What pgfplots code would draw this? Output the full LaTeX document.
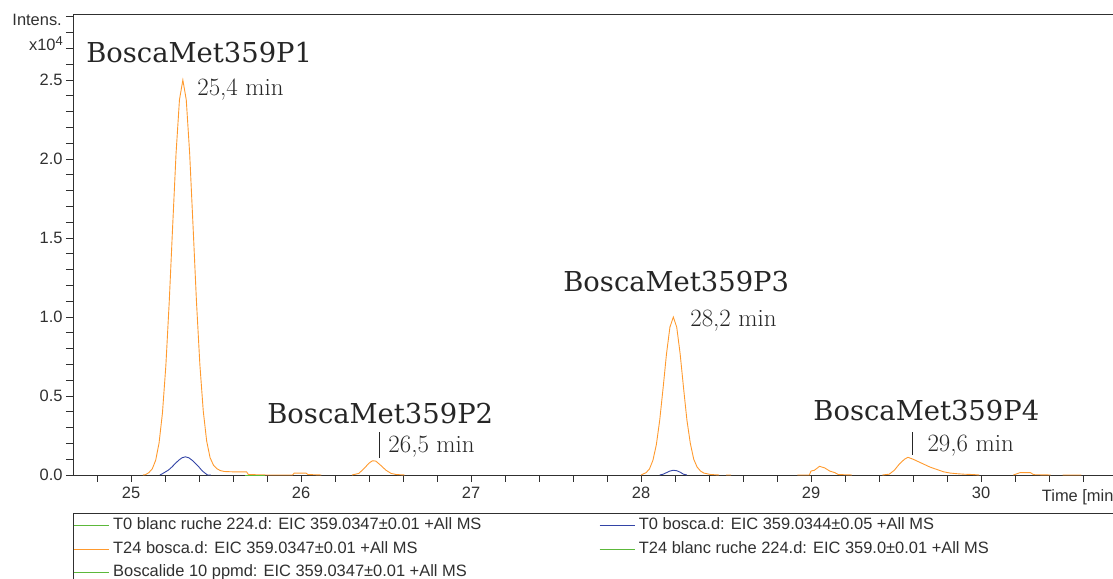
\documentclass[border=0pt]{standalone}
\usepackage{fontspec}
\setmainfont{Liberation Sans}
\newfontfamily\titlefont{DejaVu Serif}
\newfontfamily\lmfont{Latin Modern Roman}
\usepackage{pgfplots}
\pgfplotsset{compat=1.18}
\definecolor{cOrange}{HTML}{FF9A2E}
\definecolor{cBlue}{HTML}{3344A6}
\definecolor{cGreen}{HTML}{5CB83A}
\definecolor{axcol}{HTML}{303030}

\pgfplotstableread{
t I
25.07 0
25.085 0.002
25.105 0.015
25.125 0.039
25.145 0.093
25.165 0.202
25.185 0.393
25.205 0.692
25.225 1.099
25.245 1.574
25.265 2.036
25.285 2.375
25.305 2.50
25.325 2.375
25.345 2.036
25.365 1.574
25.385 1.099
25.405 0.700
25.425 0.405
25.445 0.215
25.465 0.110
25.485 0.062
25.505 0.040
25.525 0.028
25.55 0.022
25.60 0.020
25.68 0.020
25.69 0.003
25.80 0
25.95 0
25.96 0.012
26.03 0.012
26.04 0.003
26.12 0
nan nan
26.30 0
26.34 0.010
26.37 0.040
26.40 0.075
26.42 0.090
26.44 0.088
26.47 0.060
26.50 0.030
26.53 0.010
26.56 0.003
26.61 0
nan nan
28.00 0
28.01 0.005
28.03 0.015
28.05 0.039
28.07 0.093
28.09 0.191
28.11 0.347
28.13 0.552
28.15 0.768
28.17 0.936
28.19 1.000
28.21 0.936
28.23 0.768
28.25 0.552
28.27 0.347
28.29 0.200
28.31 0.100
28.33 0.050
28.35 0.025
28.37 0.012
28.41 0.003
28.46 0
nan nan
28.50 0
28.53 0
nan nan
28.92 0
28.99 0
29.00 0.025
29.02 0.030
29.05 0.055
29.08 0.045
29.11 0.025
29.14 0.015
29.16 0.003
29.24 0
nan nan
29.42 0
29.46 0.005
29.49 0.030
29.52 0.070
29.55 0.100
29.57 0.112
29.60 0.100
29.63 0.085
29.66 0.070
29.70 0.050
29.74 0.035
29.78 0.020
29.82 0.012
29.86 0.008
29.90 0.005
29.95 0.003
29.99 0
nan nan
30.19 0
30.23 0.015
30.29 0.015
30.31 0.002
30.41 0
nan nan
30.48 0
30.59 0
}\tTwentyFourBosca

\pgfplotstableread{
t I
25.17 0
25.18 0.005
25.20 0.018
25.22 0.031
25.24 0.050
25.26 0.072
25.28 0.093
25.30 0.109
25.32 0.115
25.34 0.109
25.36 0.093
25.38 0.072
25.40 0.050
25.42 0.025
25.44 0.008
25.45 0
25.47 0
nan nan
28.11 0
28.13 0.005
28.15 0.015
28.17 0.025
28.19 0.030
28.21 0.027
28.23 0.018
28.25 0.005
28.27 0
}\tZeroBosca

\pgfplotstableread{
t I
25.67 0
25.79 0
}\tGreen

\begin{document}
\begin{tikzpicture}[x=1bp,y=1bp]
\begin{axis}[
  at={(73bp,104bp)}, anchor=south west,
  scale only axis, width=1045bp, height=461bp,
  xmin=24.6588, xmax=30.806, ymin=0, ymax=2.918,
  xtick={25,26,27,28,29,30},
  xticklabels={25,26,27,28,29,30},
  minor xtick={24.8,25.2,25.4,25.6,25.8,26.2,26.4,26.6,26.8,27.2,27.4,27.6,27.8,28.2,28.4,28.6,28.8,29.2,29.4,29.6,29.8,30.2,30.4,30.6},
  ytick={0,0.5,1,1.5,2,2.5},
  yticklabels={0.0,0.5,1.0,1.5,2.0,2.5},
  minor ytick={0.1,0.2,0.3,0.4,0.6,0.7,0.8,0.9,1.1,1.2,1.3,1.4,1.6,1.7,1.8,1.9,2.1,2.2,2.3,2.4,2.6,2.7,2.8,2.9},
  tick align=outside, xtick pos=left, ytick pos=left,
  major tick length=7bp, minor tick length=7bp,
  every tick/.style={axcol, line width=0.8pt},
  axis line style={axcol, line width=0.8pt},
  ticklabel style={font=\fontsize{16.5}{19}\selectfont, text=axcol},
  xticklabel style={yshift=-2bp},
  /pgf/number format/assume math mode=true,
  unbounded coords=jump,
  clip=false,
  legend columns=2,
  legend cell align=left,
  legend image code/.code={\draw[#1] (0bp,0bp) -- (35bp,0bp);},
  legend style={at={(0,-0.0824)}, anchor=north west, draw=axcol, line width=0.8pt,
    inner sep=0pt, row sep=0pt, column sep=0pt,
    font=\fontsize{16.5}{20}\selectfont, text=axcol,
    nodes={inner sep=3.9bp, text height=12bp, text depth=4bp}},
]
\addplot[cGreen, line width=0.9pt] table[x=t,y=I] {\tGreen};
\addlegendentry{\makebox[482bp][l]{T0 blanc ruche 224.d: EIC 359.0347±0.01 +All MS}}
\addplot[cBlue, line width=0.9pt] table[x=t,y=I] {\tZeroBosca};
\addlegendentry{\makebox[480bp][l]{T0 bosca.d: EIC 359.0344±0.05 +All MS}}
\addplot[cOrange, line width=0.9pt] table[x=t,y=I] {\tTwentyFourBosca};
\addlegendentry{T24 bosca.d: EIC 359.0347±0.01 +All MS}
\addplot[cGreen, line width=0.9pt] table[x=t,y=I] {\tGreen};
\addlegendentry{T24 blanc ruche 224.d: EIC 359.0±0.01 +All MS}
\addplot[cGreen, line width=0.9pt] table[x=t,y=I] {\tGreen};
\addlegendentry{Boscalide 10 ppmd: EIC 359.0347±0.01 +All MS}

\tikzset{ttl/.style={font=\titlefont\fontsize{27.5}{32}\selectfont, text=black!85, inner sep=0pt},
         rt/.style={font=\lmfont\fontsize{25}{30}\selectfont, text=black!85, inner sep=0pt, anchor=west}}
\node[ttl] at (axis cs:25.401,2.671) {BoscaMet359P1};
\node[rt] at (axis cs:25.389,2.437) {25,4 min};
\node[ttl] at (axis cs:26.466,0.386) {BoscaMet359P2};
\draw[black!85, line width=0.9pt] (axis cs:26.46,0.108) -- (axis cs:26.46,0.272);
\node[rt] at (axis cs:26.513,0.177) {26,5 min};
\node[ttl] at (axis cs:28.207,1.222) {BoscaMet359P3};
\node[rt] at (axis cs:28.289,0.975) {28,2 min};
\node[ttl] at (axis cs:29.678,0.405) {BoscaMet359P4};
\draw[black!85, line width=0.9pt] (axis cs:29.595,0.127) -- (axis cs:29.595,0.272);
\node[rt] at (axis cs:29.684,0.184) {29,6 min};

\node[anchor=east, inner sep=0pt, font=\fontsize{16.5}{19}\selectfont, text=axcol] at (axis description cs:0,1) [xshift=-11bp, yshift=-6bp] {Intens.};
\node[anchor=base east, inner sep=0pt, font=\fontsize{16.5}{19}\selectfont, text=axcol] at (axis description cs:0,1) [xshift=-10bp, yshift=-37bp] {x10\raisebox{5bp}{\fontsize{13}{15}\selectfont 4}};
\node[anchor=base west, inner sep=0pt, font=\fontsize{16.5}{19}\selectfont, text=axcol] at (axis cs:30.357,0) [yshift=-27bp] {Time [min]};
\end{axis}
\pgfresetboundingbox
\useasboundingbox (0,0) rectangle (1113,579);
\end{tikzpicture}
\end{document}
